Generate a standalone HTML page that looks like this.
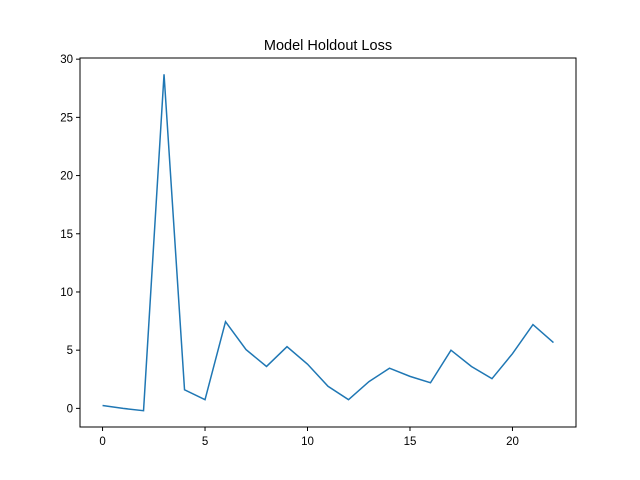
<!DOCTYPE html>
<html><head><meta charset="utf-8"><style>body{margin:0;background:#fff}svg{display:block;font-family:"Liberation Sans","DejaVu Sans",sans-serif}</style></head>
<body>
<svg id="chart" width="640" height="480">
<rect x="0" y="0" width="640" height="480" fill="#fff"/>
<text x="328" y="50" text-anchor="middle" font-size="14.5">Model Holdout Loss</text>
<g id="ticks"></g>
<polyline id="line" fill="none" stroke="#1f77b4" stroke-width="1.5"/>
<rect x="80" y="58" width="496" height="369" fill="none" stroke="#000" stroke-width="1"/>
</svg>
<script>
const epochs=[0,1,2,3,4,5,6,7,8,9,10,11,12,13,14,15,16,17,18,19,20,21,22];
const losses=[0.25,0.0,-0.2,28.7,1.6,0.75,7.45,5.05,3.6,5.3,3.8,1.9,0.75,2.3,3.45,2.75,2.2,5.0,3.6,2.55,4.7,7.2,5.65];
const xTicks=[0,5,10,15,20];
const yTicks=[0,5,10,15,20,25,30];
const X0=80,X1=576,Y0=58,Y1=427,xmin=-1.1,xmax=23.1,ymin=-1.6,ymax=30.1;
const sx=v=>X0+(v-xmin)/(xmax-xmin)*(X1-X0);
const sy=v=>Y1-(v-ymin)/(ymax-ymin)*(Y1-Y0);
const NS="http://www.w3.org/2000/svg";
const g=document.getElementById('ticks');
function mk(t,a){const e=document.createElementNS(NS,t);for(const k in a)e.setAttribute(k,a[k]);g.appendChild(e);return e;}
xTicks.forEach(v=>{
 const l=mk('line',{x1:sx(v),x2:sx(v),y1:Y1,y2:Y1+4,stroke:'#000'});
 
 
 const t=mk('text',{x:sx(v),y:Y1+18,'text-anchor':'middle','font-size':'11.5'});
 t.textContent=v;
 
 
});
yTicks.forEach(v=>{
 const l=mk('line',{x1:X0-4,x2:X0,y1:sy(v),y2:sy(v),stroke:'#000'});
 
 
 const t=mk('text',{x:X0-7,y:sy(v)+4,'text-anchor':'end','font-size':'11.5'});
 t.textContent=v;
 
 
});
document.getElementById('line').setAttribute('points',epochs.map((e,i)=>sx(e)+','+sy(losses[i])).join(' '));
</script>
</body></html>
